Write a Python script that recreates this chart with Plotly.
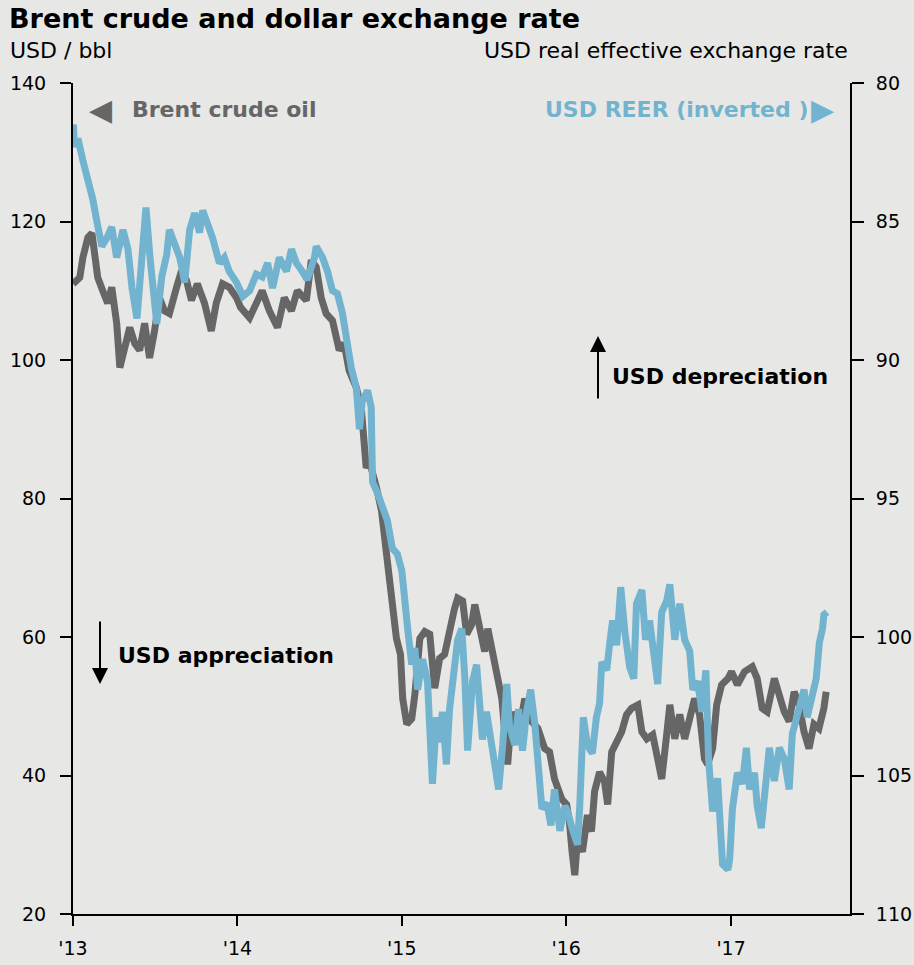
"""
Brent crude vs USD real effective exchange rate (inverted right axis).
"""

import plotly.graph_objects as go

# ---- data ----
BRENT_DATES = [
    "2013-01-01", "2013-01-16", "2013-01-23", "2013-02-03", "2013-02-12", "2013-02-19",
    "2013-02-25", "2013-03-08", "2013-03-19", "2013-03-28", "2013-04-08", "2013-04-15",
    "2013-04-26", "2013-05-07", "2013-05-18", "2013-05-29", "2013-06-09", "2013-06-20",
    "2013-07-01", "2013-07-12", "2013-07-23", "2013-08-03", "2013-08-19", "2013-08-30",
    "2013-09-10", "2013-09-21", "2013-10-04", "2013-10-20", "2013-11-04", "2013-11-15",
    "2013-11-29", "2013-12-14", "2013-12-30",
    "2014-01-08", "2014-01-28", "2014-02-12", "2014-02-25", "2014-03-13", "2014-03-31",
    "2014-04-15", "2014-05-01", "2014-05-14", "2014-06-03", "2014-06-14", "2014-06-25",
    "2014-07-06", "2014-07-17", "2014-07-31", "2014-08-15", "2014-08-26", "2014-09-06",
    "2014-09-22", "2014-10-03", "2014-10-14", "2014-10-21", "2014-11-06", "2014-11-17",
    "2014-11-28", "2014-12-09", "2014-12-20", "2014-12-29",
    "2015-01-03", "2015-01-12", "2015-01-23", "2015-01-30", "2015-02-10", "2015-02-21",
    "2015-03-04", "2015-03-15", "2015-03-26", "2015-04-06", "2015-04-17", "2015-04-28",
    "2015-05-05", "2015-05-16", "2015-05-25", "2015-06-05", "2015-06-12", "2015-06-23",
    "2015-07-04", "2015-07-11", "2015-07-26", "2015-08-11", "2015-08-24", "2015-09-02",
    "2015-09-15", "2015-10-01", "2015-10-16", "2015-10-30", "2015-11-14", "2015-11-25",
    "2015-12-06", "2015-12-22",
    "2016-01-02", "2016-01-08", "2016-01-14", "2016-01-20", "2016-01-26", "2016-02-06",
    "2016-02-17", "2016-02-26", "2016-03-04", "2016-03-15", "2016-03-26", "2016-04-02",
    "2016-04-11", "2016-04-22", "2016-05-03", "2016-05-14", "2016-05-25", "2016-06-08",
    "2016-06-17", "2016-06-28", "2016-07-11", "2016-07-22", "2016-07-31", "2016-08-11",
    "2016-08-18", "2016-08-29", "2016-09-09", "2016-09-20", "2016-10-01", "2016-10-12",
    "2016-10-23", "2016-11-03", "2016-11-10", "2016-11-21", "2016-11-30", "2016-12-11",
    "2016-12-25",
    "2017-01-02", "2017-01-15", "2017-01-31", "2017-02-17", "2017-02-28", "2017-03-11",
    "2017-03-22", "2017-04-07", "2017-04-18", "2017-04-29", "2017-05-10", "2017-05-21",
    "2017-06-01", "2017-06-12", "2017-06-23", "2017-07-04", "2017-07-15", "2017-07-26",
    "2017-07-31",
]
BRENT_USD = [
    111.0, 111.9, 114.8, 117.7, 118.3, 115.4, 111.9, 110.0, 108.2, 110.5, 105.3, 98.9,
    102.4, 104.7, 102.4, 101.4, 105.3, 100.3, 104.2, 109.0, 107.1, 106.7, 110.5, 112.9,
    111.5, 108.6, 111.0, 108.2, 104.2, 108.2, 111.0, 110.5, 109.0,
    107.6, 106.1, 108.2, 110.0, 107.1, 104.7, 109.0, 107.1, 110.0, 108.6, 114.4, 113.4,
    109.0, 106.7, 105.7, 101.4, 102.4, 98.5, 96.0, 93.1, 84.4, 85.4, 81.5, 78.2,
    72.0, 64.7, 59.8, 57.5,
    51.1, 47.4, 48.2, 51.7, 59.8, 60.8, 60.4, 52.6, 56.9, 57.5, 61.2, 64.1,
    65.6, 65.2, 60.4, 61.8, 64.7, 60.8, 57.9, 61.2, 56.0, 51.1, 41.6, 49.2,
    45.3, 51.1, 47.8, 46.8, 43.9, 43.4, 39.5, 36.6,
    35.8, 33.3, 29.0, 25.6, 30.9, 29.0, 34.3, 31.9, 37.7, 40.5, 39.1, 35.8,
    43.4, 44.9, 46.3, 48.8, 49.7, 50.2, 46.3, 45.3, 45.9, 42.4, 39.5, 45.9,
    50.2, 45.3, 48.8, 45.3, 48.2, 51.1, 48.8, 42.4, 41.6, 43.9, 50.2, 53.1,
    54.0,
    55.0, 53.1, 55.0, 55.7, 54.0, 49.7, 49.2, 54.0, 51.1, 49.2, 47.8, 52.1,
    50.2, 46.3, 43.9, 47.4, 46.8, 49.7, 52.1,
]

REER_DATES = [
    "2013-01-01", "2013-01-02", "2013-01-04", "2013-01-12", "2013-01-23", "2013-02-03",
    "2013-02-14", "2013-02-23", "2013-03-06", "2013-03-17", "2013-03-28", "2013-04-08",
    "2013-04-22", "2013-05-03", "2013-05-12", "2013-05-23", "2013-06-03", "2013-06-12",
    "2013-06-21", "2013-07-02", "2013-07-06", "2013-07-17", "2013-07-28", "2013-08-03",
    "2013-08-15", "2013-08-26", "2013-09-06", "2013-09-17", "2013-09-28", "2013-10-09",
    "2013-10-16", "2013-10-27", "2013-11-07", "2013-11-22", "2013-12-03", "2013-12-14",
    "2013-12-30",
    "2014-01-13", "2014-01-28", "2014-02-12", "2014-02-25", "2014-03-09", "2014-03-20",
    "2014-04-04", "2014-04-20", "2014-05-01", "2014-05-12", "2014-05-25", "2014-06-05",
    "2014-06-21", "2014-06-25", "2014-07-09", "2014-07-20", "2014-07-31", "2014-08-11",
    "2014-08-22", "2014-09-02", "2014-09-11", "2014-09-22", "2014-09-29", "2014-10-05",
    "2014-10-17", "2014-10-25", "2014-10-28", "2014-11-08", "2014-11-19", "2014-11-30",
    "2014-12-11", "2014-12-22",
    "2015-01-01", "2015-01-07", "2015-01-14", "2015-01-23", "2015-01-30", "2015-02-05",
    "2015-02-16", "2015-02-27", "2015-03-10", "2015-03-19", "2015-03-25", "2015-04-01",
    "2015-04-10", "2015-04-17", "2015-04-28", "2015-05-05", "2015-05-14", "2015-05-21",
    "2015-05-27", "2015-06-07", "2015-06-16", "2015-06-23", "2015-06-29", "2015-07-08",
    "2015-07-19", "2015-07-26", "2015-08-04", "2015-08-13", "2015-08-22", "2015-08-28",
    "2015-09-09", "2015-09-17", "2015-09-26", "2015-10-05", "2015-10-14", "2015-10-23",
    "2015-11-01", "2015-11-08", "2015-11-19", "2015-11-28", "2015-12-06", "2015-12-18",
    "2015-12-29",
    "2016-01-04", "2016-01-14", "2016-01-26", "2016-01-31", "2016-02-04", "2016-02-08",
    "2016-02-17", "2016-02-28", "2016-03-08", "2016-03-15", "2016-03-20", "2016-03-31",
    "2016-04-06", "2016-04-13", "2016-04-22", "2016-05-01", "2016-05-10", "2016-05-21",
    "2016-05-30", "2016-06-05", "2016-06-17", "2016-06-25", "2016-07-04", "2016-07-15",
    "2016-07-22", "2016-07-31", "2016-08-11", "2016-08-18", "2016-08-29", "2016-09-09",
    "2016-09-20", "2016-10-01", "2016-10-08", "2016-10-19", "2016-10-28", "2016-11-06",
    "2016-11-12", "2016-11-21", "2016-12-02", "2016-12-13", "2016-12-25", "2016-12-29",
    "2017-01-04", "2017-01-15", "2017-01-26", "2017-02-04", "2017-02-11", "2017-02-22",
    "2017-02-28", "2017-03-09", "2017-03-20", "2017-03-27", "2017-04-07", "2017-04-18",
    "2017-04-29", "2017-05-10", "2017-05-17", "2017-05-28", "2017-06-12", "2017-06-19",
    "2017-06-30", "2017-07-09", "2017-07-16", "2017-07-23", "2017-07-26", "2017-08-02",
]
REER_INDEX = [
    81.6, 81.5, 82.3, 82.0, 82.8, 83.4, 84.2, 85.0, 85.9, 85.6, 85.2, 86.3,
    85.3, 86.0, 87.4, 88.5, 86.0, 84.5, 86.3, 88.0, 88.7, 87.0, 86.2, 85.3,
    85.8, 86.3, 87.2, 85.3, 84.7, 85.4, 84.6, 85.1, 85.6, 86.5, 86.3, 86.8,
    87.2,
    87.7, 87.5, 86.9, 87.0, 86.5, 87.4, 86.3, 86.8, 86.0, 86.5, 86.8, 87.1,
    86.3, 85.9, 86.3, 86.8, 87.5, 87.6, 88.3, 89.6, 90.3, 91.0, 92.5, 91.5,
    91.1, 91.7, 94.4, 94.8, 95.4, 95.8, 96.8, 97.0,
    97.6, 98.8, 99.7, 101.0, 100.4, 101.9, 100.8, 101.6, 105.3, 102.9, 103.8, 102.7,
    104.6, 102.6, 100.8, 100.1, 99.7, 101.5, 104.1, 101.6, 101.0, 102.2, 103.7, 102.7,
    104.0, 104.9, 105.5, 103.9, 101.7, 103.2, 103.9, 102.6, 104.1, 102.7, 101.9, 103.1,
    104.6, 106.2, 106.0, 106.8, 105.5, 107.0, 106.1,
    106.3, 106.9, 107.5, 106.1, 104.4, 102.9, 103.9, 104.2, 102.9, 102.4, 100.9, 101.2,
    100.3, 99.4, 100.3, 98.2, 99.8, 101.1, 101.5, 98.8, 98.3, 100.1, 99.4, 100.8,
    101.7, 99.1, 98.7, 98.1, 100.1, 98.8, 100.1, 100.5, 101.9, 101.6, 102.7, 101.2,
    104.4, 106.3, 105.1, 108.2, 108.4, 108.0,
    106.2, 104.9, 105.3, 104.0, 105.5, 104.9, 106.1, 106.9, 105.1, 104.0, 105.2, 104.0,
    104.4, 105.5, 103.5, 102.9, 101.9, 102.9, 102.0, 101.5, 100.2, 99.7, 99.2, 99.1,
]

X_TICKS = ["2013-01-01", "2014-01-01", "2015-01-01", "2016-01-01", "2017-01-01"]
X_TICK_TEXT = ["'13", "'14", "'15", "'16", "'17"]
LEFT_TICKS = [20, 40, 60, 80, 100, 120, 140]
RIGHT_TICKS = [80, 85, 90, 95, 100, 105, 110]

BG = "#e7e7e5"
GRAY = "#666666"
BLUE = "#72b4cf"
FONT = "DejaVu Sans"

fig = go.Figure()
fig.add_trace(
    go.Scatter(
        x=BRENT_DATES, y=BRENT_USD, mode="lines", yaxis="y",
        line=dict(color=GRAY, width=7), name="Brent crude oil",
    )
)
fig.add_trace(
    go.Scatter(
        x=REER_DATES, y=REER_INDEX, mode="lines", yaxis="y2",
        line=dict(color=BLUE, width=7), name="USD REER (inverted)",
    )
)

axis_common = dict(
    showline=True, linecolor="black", linewidth=2, showgrid=False, zeroline=False,
    automargin=False, ticks="outside", tickwidth=2, tickcolor="black",
    tickfont=dict(size=19, color="black"),
)
fig.update_layout(
    width=914, height=965, autosize=False,
    margin=dict(l=73, r=64, t=83, b=51),
    paper_bgcolor=BG, plot_bgcolor=BG,
    font=dict(family=FONT, color="black"),
    showlegend=False,
    xaxis=dict(
        type="date", range=["2013-01-01", "2017-09-22"],
        tickvals=X_TICKS, ticktext=X_TICK_TEXT, ticklen=10, ticklabelstandoff=6,
        **axis_common,
    ),
    yaxis=dict(
        range=[20, 140], tickvals=LEFT_TICKS, ticklen=11, ticklabelstandoff=10,
        side="left", **axis_common,
    ),
    yaxis2=dict(
        range=[110, 80], tickvals=RIGHT_TICKS, ticklen=12, ticklabelstandoff=8,
        side="right", overlaying="y", **axis_common,
    ),
)


def px_x(p):
    return (p - 73) / 777


def px_y(p):
    return (914 - p) / 831


notes = [
    dict(text="<b>Brent crude and dollar exchange rate</b>", x=px_x(7), y=px_y(19),
         xanchor="left", font=dict(size=27, color="black")),
    dict(text="USD / bbl", x=px_x(8), y=px_y(50), xanchor="left",
         font=dict(size=22, color="black")),
    dict(text="USD real effective exchange rate", x=px_x(850), y=px_y(50),
         xanchor="right", font=dict(size=22, color="black")),
    dict(text="◀", x=px_x(100), y=px_y(109), xanchor="center",
         font=dict(size=30, color=GRAY)),
    dict(text="<b>Brent crude oil</b>", x=px_x(130), y=px_y(109), xanchor="left",
         font=dict(size=22, color=GRAY)),
    dict(text="<b>USD REER (inverted )</b>", x=px_x(811), y=px_y(109), xanchor="right",
         font=dict(size=22, color=BLUE)),
    dict(text="▶", x=px_x(822), y=px_y(109), xanchor="center",
         font=dict(size=30, color=BLUE)),
    dict(text="<b>USD depreciation</b>", x=px_x(610), y=px_y(376), xanchor="left",
         font=dict(size=22, color="black")),
    dict(text="<b>USD appreciation</b>", x=px_x(116), y=px_y(655), xanchor="left",
         font=dict(size=22, color="black")),
]
for n in notes:
    fig.add_annotation(xref="paper", yref="paper", yanchor="middle", showarrow=False, **n)

# direction arrows
fig.add_annotation(xref="paper", yref="paper", x=px_x(598), y=px_y(336), text="",
                   showarrow=True, ax=0, ay=64, arrowhead=2, arrowsize=1.6,
                   arrowwidth=2, arrowcolor="black")
fig.add_annotation(xref="paper", yref="paper", x=px_x(100), y=px_y(684), text="",
                   showarrow=True, ax=0, ay=-64, arrowhead=2, arrowsize=1.6,
                   arrowwidth=2, arrowcolor="black")

# page body margin would otherwise shift the figure by 8px
fig.write_html(
    "out.html",
    config={"displayModeBar": False},
    post_script="document.body.style.margin='0';",
)
